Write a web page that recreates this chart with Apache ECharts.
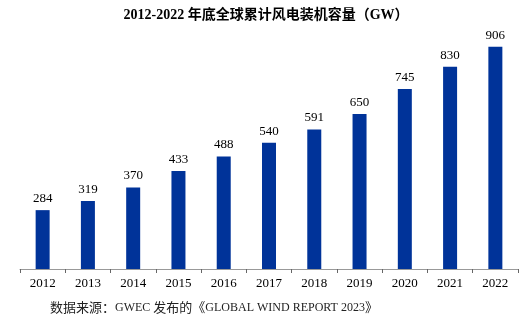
<!DOCTYPE html>
<html><head><meta charset="utf-8">
<script src="https://cdn.jsdelivr.net/npm/echarts@6/dist/echarts.min.js"></script>
<style>html,body{margin:0;padding:0;background:#fff}#c{width:532px;height:322px}</style>
</head><body><div id="c"></div>
<script>
const categories = ['2012','2013','2014','2015','2016','2017','2018','2019','2020','2021','2022'];
const capacity = [284,319,370,433,488,540,591,650,745,830,906];
const titleText = '2012-2022 年底全球累计风电装机容量（GW）';
const sourceParts = ['数据来源：', 'GWEC ', '发布的《', 'GLOBAL WIND REPORT 2023', '》'];

const chart = echarts.init(document.getElementById('c'), null, {renderer:'canvas'});
chart.setOption({
  animation:false,
  backgroundColor:'#fff',
  title:[{
    text:titleText, left:'center', top:3,
    textStyle:{fontFamily:'Liberation Serif, Noto Sans CJK SC', fontWeight:'bold', fontSize:14, color:'#000'}
  },{
    text:'{c|' + sourceParts[0] + '}{l|' + sourceParts[1] + '}{c|' + sourceParts[2] + '}{l|' + sourceParts[3] + '}{c|' + sourceParts[4] + '}',
    left:45, top:296,
    textStyle:{
      fontWeight:'normal',
      rich:{
        c:{fontFamily:'Noto Sans CJK SC', fontSize:13, fontWeight:'normal', color:'#222'},
        l:{fontFamily:'Liberation Serif', fontSize:12, fontWeight:'normal', color:'#222'}
      }
    }
  }],
  grid:{left:20, right:14, top:22, bottom:53},
  xAxis:{
    type:'category', data:categories,
    axisLine:{lineStyle:{color:'#999', width:1}},
    axisTick:{show:true, length:4, lineStyle:{color:'#666'}},
    axisLabel:{fontFamily:'Liberation Serif', fontSize:13, color:'#000', margin:8}
  },
  yAxis:{type:'value', min:60, max:1000, show:false, splitLine:{show:false}},
  series:[{
    type:'bar', data:capacity, barWidth:14,
    itemStyle:{color:'#003399'},
    label:{show:true, position:'top', distance:5, fontFamily:'Liberation Serif', fontSize:13, color:'#000'}
  }]
});
</script></body></html>
